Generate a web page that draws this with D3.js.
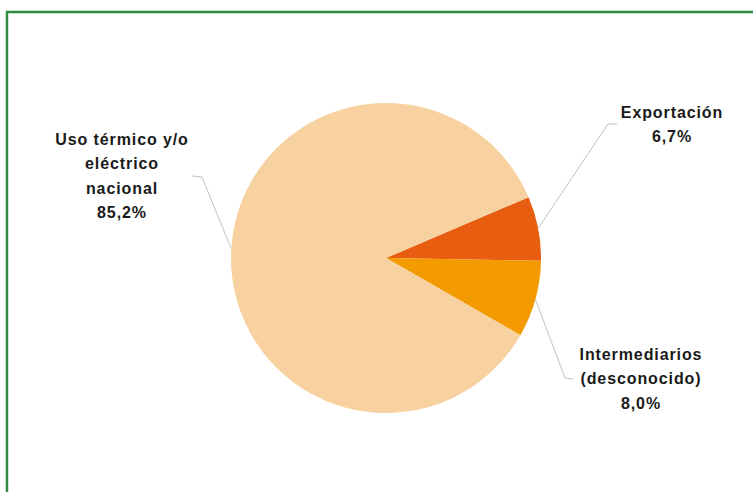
<!DOCTYPE html>
<html>
<head>
<meta charset="utf-8">
<script src="https://cdn.jsdelivr.net/npm/d3@7"></script>
<style>
  html, body { margin: 0; padding: 0; background: #ffffff; }
  svg { display: block; }
  .lbl { font-family: "Liberation Sans", Arial, sans-serif; font-weight: bold; font-size: 16px; fill: #1a1a1a; letter-spacing: 0.9px; }
</style>
</head>
<body>
<svg id="chart" width="753" height="492"></svg>
<script>
// Destino de la producción (porcentaje)
const categories = ["Exportación", "Intermediarios (desconocido)", "Uso térmico y/o eléctrico nacional"];
const values = [6.7, 8.0, 85.2];
const labelLines = [
  ["Exportación", "6,7%"],
  ["Intermediarios", "(desconocido)", "8,0%"],
  ["Uso térmico y/o", "eléctrico", "nacional", "85,2%"]
];
const colors = ["#E85D10", "#F29A00", "#F8D1A1"];

// Layout
const W = 753, H = 492;
const cx = 386, cy = 258, R = 155;
const startDeg = 66.9;
// label block: text centre x, first baseline y, elbow point, end of leader
const labelLayout = [
  { x: 672, y: 118, elbow: [608, 124], end: [617, 124] },
  { x: 641, y: 360, elbow: [565, 378], end: [573, 379] },
  { x: 122, y: 145, elbow: [202, 177], end: [192, 176] }
];
const lineGap = 24.3;

const svg = d3.select("#chart");

// frame
svg.append("rect")
  .attr("x", 7).attr("y", 12)
  .attr("width", W + 20).attr("height", H + 20)
  .attr("fill", "none")
  .attr("stroke", "#2F8A3F")
  .attr("stroke-width", 2.5);

const rad = d => d * Math.PI / 180;
const pie = d3.pie().sort(null).value(d => d)
  .startAngle(rad(startDeg)).endAngle(rad(startDeg) + 2 * Math.PI);
const arcs = pie(values);
const arc = d3.arc().innerRadius(0).outerRadius(R);

const g = svg.append("g").attr("transform", `translate(${cx},${cy})`);
g.selectAll("path.slice")
  .data(arcs)
  .join("path")
  .attr("class", "slice")
  .attr("d", arc)
  .attr("fill", (d, i) => colors[i]);

// leader lines from slice edge at mid angle
const edgeArc = d3.arc().innerRadius(R).outerRadius(R);
svg.selectAll("polyline.leader")
  .data(arcs)
  .join("polyline")
  .attr("class", "leader")
  .attr("fill", "none")
  .attr("stroke", "#c4c4c4")
  .attr("stroke-width", 1)
  .attr("points", (d, i) => {
    const p = edgeArc.centroid(d);
    const L = labelLayout[i];
    return [[p[0] + cx, p[1] + cy], L.elbow, L.end].map(q => q.join(",")).join(" ");
  });

// labels
labelLines.forEach((lines, i) => {
  const L = labelLayout[i];
  const t = svg.append("text")
    .attr("class", "lbl")
    .attr("text-anchor", "middle");
  lines.forEach((s, k) => {
    t.append("tspan").attr("x", L.x).attr("y", L.y + k * lineGap).text(s);
  });
});
</script>
</body>
</html>
